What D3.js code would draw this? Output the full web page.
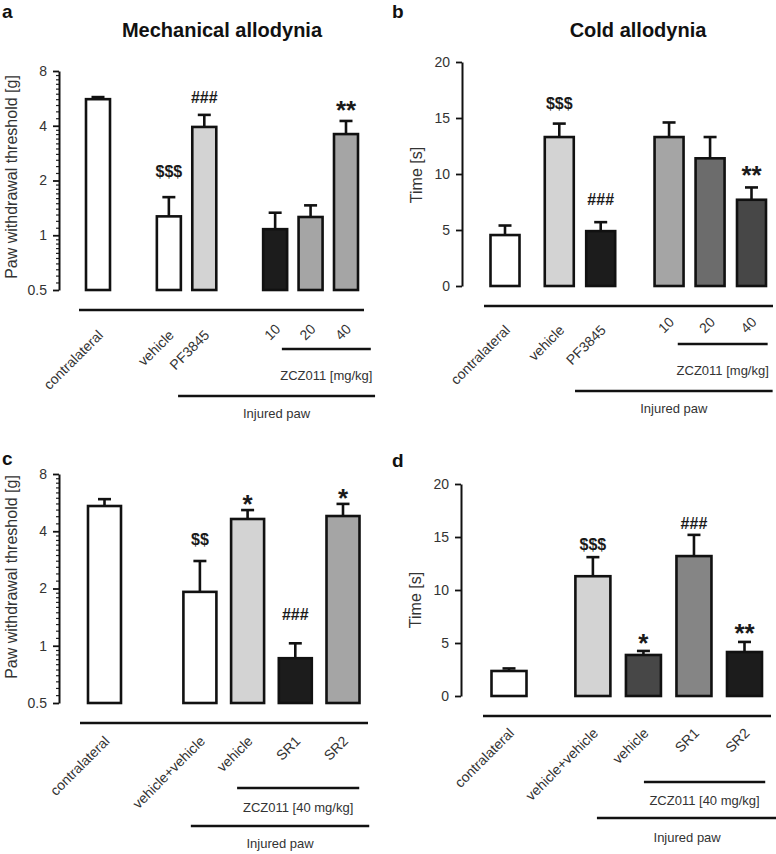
<!DOCTYPE html>
<html><head><meta charset="utf-8">
<script src="https://cdn.jsdelivr.net/npm/d3@7"></script>
<style>
html,body{margin:0;padding:0;background:#fff;}
svg{display:block;font-family:"Liberation Sans",Arial,Helvetica,sans-serif;}
</style></head>
<body>
<svg id="chart" width="776" height="854"></svg>
<script>
// ---------------- DATA ----------------
const aCategories = ["contralateral","vehicle","PF3845","10","20","40"];
const aMeans  = [5.6, 1.27, 3.94, 1.08, 1.26, 3.6];
const aUpper  = [5.75, 1.62, 4.59, 1.33, 1.46, 4.25];
const aMarks  = ["", "$$$", "###", "", "", "**"];

const bCategories = ["contralateral","vehicle","PF3845","10","20","40"];
const bMeans  = [4.55, 13.3, 4.9, 13.3, 11.4, 7.7];
const bUpper  = [5.4, 14.5, 5.7, 14.6, 13.3, 8.8];
const bMarks  = ["", "$$$", "###", "", "", "**"];

const cCategories = ["contralateral","vehicle+vehicle","vehicle","SR1","SR2"];
const cMeans  = [5.43, 1.92, 4.64, 0.86, 4.81];
const cUpper  = [5.9, 2.79, 5.17, 1.03, 5.57];
const cMarks  = ["", "$$", "*", "###", "*"];

const dCategories = ["contralateral","vehicle+vehicle","vehicle","SR1","SR2"];
const dMeans  = [2.36, 11.3, 3.87, 13.2, 4.15];
const dUpper  = [2.6, 13.1, 4.25, 15.2, 5.1];
const dMarks  = ["", "$$$", "*", "###", "**"];

const logTicks = [0.5, 1, 2, 4, 8];
const linTicks = [0, 5, 10, 15, 20];

const titles = ["Mechanical allodynia", "Cold allodynia"];
const yLabels = ["Paw withdrawal threshold [g]", "Time [s]"];
const zczLabels = ["ZCZ011 [mg/kg]", "ZCZ011 [40 mg/kg]"];
const injuredLabel = "Injured paw";

// ---------------- STYLE / LAYOUT ----------------
const panels = [
  { letter:"a", lx:2, ly:18, cats:aCategories, means:aMeans, upper:aUpper, marks:aMarks,
    fills:["#ffffff","#ffffff","#d3d3d3","#1c1c1c","#a5a5a5","#a5a5a5"],
    markGap:[0,20,12,0,0,12],
    type:"log", ticks:logTicks, yRange:[290,71], axisX:59,
    slots:[0,2,3,5,6,7], slotRange:[98,346], barW:24,
    baseY:310, baseX:[79,364], labOff:[26,20],
    zcz:[5.19,7.7], inj:[2.26,7.82], zczOff:[39,70], injOff:[86,108],
    title:titles[0], titleX:222, titleY:37,
    ylabel:yLabels[0], ylabX:17, ylabY:177, zczLabel:zczLabels[0] },
  { letter:"b", lx:392, ly:18, cats:bCategories, means:bMeans, upper:bUpper, marks:bMarks,
    fills:["#ffffff","#d3d3d3","#1c1c1c","#a5a5a5","#6c6c6c","#474747"],
    markGap:[0,15,17,0,0,13],
    type:"lin", ticks:linTicks, yRange:[286,62], axisX:462,
    slots:[0,1.31,2.31,3.96,4.95,5.95], slotRange:[505,751.5], barW:29,
    baseY:306, baseX:[484,773], labOff:[25,17],
    zcz:[4.17,6.34], inj:[1.69,6.46], zczOff:[38,69], injOff:[85,107],
    title:titles[1], titleX:638, titleY:37,
    ylabel:yLabels[1], ylabX:422, ylabY:175, zczLabel:zczLabels[0] },
  { letter:"c", lx:2, ly:465, cats:cCategories, means:cMeans, upper:cUpper, marks:cMarks,
    fills:["#ffffff","#ffffff","#d3d3d3","#1c1c1c","#a5a5a5"],
    markGap:[0,16,7,23,7],
    type:"log", ticks:logTicks, yRange:[703,474], axisX:59,
    slots:[0,2,3,4,5], slotRange:[104.5,343], barW:33,
    baseY:723, baseX:[80,368], labOff:[19,19],
    zcz:[2.78,5.34], inj:[1.81,5.55], zczOff:[65,89], injOff:[103,125],
    title:null,
    ylabel:yLabels[0], ylabX:17, ylabY:577, zczLabel:zczLabels[1] },
  { letter:"d", lx:392, ly:467, cats:dCategories, means:dMeans, upper:dUpper, marks:dMarks,
    fills:["#ffffff","#d3d3d3","#474747","#858585","#1c1c1c"],
    markGap:[0,7,9,6,10],
    type:"lin", ticks:linTicks, yRange:[696,484], axisX:461,
    slots:[0,1.66,2.66,3.66,4.66], slotRange:[509,744.5], barW:35,
    baseY:716, baseX:[483,771], labOff:[18,18],
    zcz:[2.67,5.07], inj:[1.74,5.31], zczOff:[66,89], injOff:[102,126],
    title:null,
    ylabel:yLabels[1], ylabX:421, ylabY:600, zczLabel:zczLabels[1] }
];

const svg = d3.select("#chart");
const TXT = "#333";

panels.forEach(p => {
  const g = svg.append("g");
  // panel letter
  g.append("text").attr("x", p.lx).attr("y", p.ly)
    .attr("font-size", 19).attr("font-weight", "bold").attr("fill", "#111").text(p.letter);
  if (p.title) {
    g.append("text").attr("x", p.titleX).attr("y", p.titleY).attr("text-anchor","middle")
      .attr("font-size", 20).attr("font-weight","bold").attr("fill","#111").text(p.title);
  }
  // scales
  let y;
  if (p.type === "log") {
    y = d3.scaleLog().base(2).domain([p.ticks[0], p.ticks[p.ticks.length-1]]).range(p.yRange);
  } else {
    y = d3.scaleLinear().domain([p.ticks[0], p.ticks[p.ticks.length-1]]).range(p.yRange);
  }
  const maxSlot = p.slots[p.slots.length-1];
  const x = d3.scaleLinear().domain([0, maxSlot]).range(p.slotRange);

  // minor ticks for log axis
  if (p.type === "log") {
    const minor = [];
    for (let i = 0; i < p.ticks.length - 1; i++) {
      const lo = p.ticks[i], hi = p.ticks[i+1];
      for (let k = 1; k < 10; k++) minor.push(lo + (hi - lo) * k / 10);
    }
    const mAxis = d3.axisLeft(y).tickValues(minor).tickSize(3).tickSizeOuter(0).tickFormat("");
    const mg = g.append("g").attr("transform", `translate(${p.axisX},0)`).call(mAxis);
    mg.select(".domain").remove();
    mg.selectAll("line").attr("stroke","#222").attr("stroke-width",1.2);
  }
  const axis = d3.axisLeft(y).tickValues(p.ticks).tickSize(6).tickSizeOuter(0).tickPadding(6)
    .tickFormat(d => String(d));
  const ag = g.append("g").attr("transform", `translate(${p.axisX},0)`).call(axis);
  ag.select(".domain").attr("stroke","#111").attr("stroke-width",2);
  ag.selectAll(".tick line").attr("stroke","#111").attr("stroke-width",1.8);
  ag.selectAll(".tick text").attr("font-size",14).attr("fill",TXT)
    .attr("font-family",'"Liberation Sans",Arial,sans-serif');

  // y label
  g.append("text").attr("transform", `translate(${p.ylabX},${p.ylabY}) rotate(-90)`)
    .attr("text-anchor","middle").attr("font-size",16).attr("fill",TXT).text(p.ylabel);

  const bottom = y.range()[0];
  const idx = d3.range(p.cats.length);

  // error bars (upward only)
  idx.forEach(i => {
    const cx = x(p.slots[i]);
    g.append("line").attr("x1",cx).attr("x2",cx).attr("y1",y(p.means[i])).attr("y2",y(p.upper[i]))
      .attr("stroke","#111").attr("stroke-width",2.6);
    g.append("line").attr("x1",cx-6.5).attr("x2",cx+6.5).attr("y1",y(p.upper[i])).attr("y2",y(p.upper[i]))
      .attr("stroke","#111").attr("stroke-width",2.6);
  });
  // bars
  g.selectAll("rect.bar").data(idx).enter().append("rect")
    .attr("x", i => x(p.slots[i]) - p.barW/2)
    .attr("width", p.barW)
    .attr("y", i => y(p.means[i]))
    .attr("height", i => bottom - y(p.means[i]))
    .attr("fill", i => p.fills[i])
    .attr("stroke","#111").attr("stroke-width",2.6);

  // significance marks
  idx.forEach(i => {
    const m = p.marks[i];
    if (!m) return;
    const cx = x(p.slots[i]);
    const capY = y(p.upper[i]);
    const isStar = m[0] === "*";
    const fs = isStar ? 26 : 16;
    const baseY = capY - p.markGap[i] + (isStar ? 10 : 0);
    g.append("text").attr("x",cx).attr("y",baseY).attr("text-anchor","middle")
      .attr("font-size",fs).attr("font-weight","bold").attr("fill","#1a1a1a").text(m);
  });

  // baseline line
  g.append("line").attr("x1",p.baseX[0]).attr("x2",p.baseX[1]).attr("y1",p.baseY).attr("y2",p.baseY)
    .attr("stroke","#111").attr("stroke-width",2.4);
  // category labels
  idx.forEach(i => {
    const isNum = /^\d+$/.test(p.cats[i]);
    const cx = x(p.slots[i]) + 6;
    const ly = p.baseY + (isNum ? p.labOff[1] : p.labOff[0]);
    g.append("text").attr("transform",`translate(${cx},${ly}) rotate(-45)`)
      .attr("text-anchor","end").attr("font-size",14).attr("fill",TXT).text(p.cats[i]);
  });
  // ZCZ011 bracket
  const zx0 = x(p.zcz[0]), zx1 = x(p.zcz[1]);
  g.append("line").attr("x1",zx0).attr("x2",zx1).attr("y1",p.baseY+p.zczOff[0]).attr("y2",p.baseY+p.zczOff[0])
    .attr("stroke","#111").attr("stroke-width",2.4);
  g.append("text").attr("x",(zx0+zx1)/2).attr("y",p.baseY+p.zczOff[1]).attr("text-anchor","middle")
    .attr("font-size",13).attr("fill",TXT).text(p.zczLabel);
  // Injured paw bracket
  const ix0 = x(p.inj[0]), ix1 = x(p.inj[1]);
  g.append("line").attr("x1",ix0).attr("x2",ix1).attr("y1",p.baseY+p.injOff[0]).attr("y2",p.baseY+p.injOff[0])
    .attr("stroke","#111").attr("stroke-width",2.4);
  g.append("text").attr("x",(ix0+ix1)/2).attr("y",p.baseY+p.injOff[1]).attr("text-anchor","middle")
    .attr("font-size",13).attr("fill",TXT).text(injuredLabel);
});
</script>
</body></html>
